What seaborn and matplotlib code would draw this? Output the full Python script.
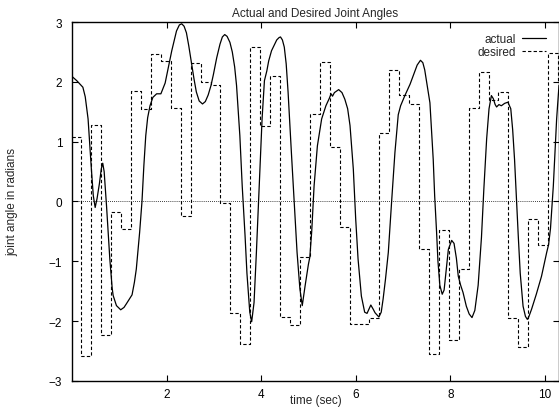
import numpy as np
import pandas as pd
import matplotlib
matplotlib.use('Agg')
import matplotlib.pyplot as plt
import seaborn as sns

# desired joint angle: value holds from each switch time until the next one
desired_t = [0.00, 0.19, 0.41, 0.62, 0.83, 1.04, 1.25, 1.46, 1.67, 1.88,
             2.09, 2.30, 2.51, 2.72, 2.93, 3.14, 3.35, 3.56, 3.77, 3.98,
             4.19, 4.40, 4.61, 4.82, 5.03, 5.24, 5.45, 5.66, 5.87, 6.08,
             6.29, 6.50, 6.71, 6.92, 7.13, 7.34, 7.55, 7.76, 7.97, 8.18,
             8.39, 8.60, 8.81, 9.02, 9.23, 9.44, 9.65, 9.86, 10.07, 10.28, 10.30]
desired_v = [1.08, -2.59, 1.28, -2.23, -0.18, -0.46, 1.84, 1.54, 2.47, 2.34,
             1.56, -0.25, 2.32, 1.99, 1.95, -0.02, -1.87, -2.38, 2.58, 1.27,
             2.10, -1.93, -2.06, -0.93, 1.46, 2.33, 0.91, -0.43, -2.04, -2.04,
             -1.95, 1.14, 2.19, 1.78, 1.63, -0.79, -2.55, -0.48, -2.32, -1.12,
             1.56, 2.16, 1.69, 1.83, -1.94, -2.44, -0.30, -0.72, 2.49, 2.00, 2.00]

# actual joint angle
actual_t = [0.00, 0.10, 0.23, 0.28, 0.34, 0.41, 0.45, 0.49, 0.53, 0.58,
            0.62, 0.65, 0.68, 0.73, 0.80, 0.85, 0.87, 0.94, 1.03, 1.10,
            1.15, 1.27, 1.32, 1.36, 1.43, 1.48, 1.52, 1.56, 1.60, 1.65,
            1.71, 1.79, 1.88, 1.92, 1.97, 2.04, 2.11, 2.21, 2.27, 2.32,
            2.37, 2.42, 2.47, 2.53, 2.58, 2.63, 2.69, 2.76, 2.82, 2.88,
            2.94, 2.99, 3.06, 3.13, 3.18, 3.23, 3.28, 3.34, 3.39, 3.44,
            3.48, 3.55, 3.60, 3.66, 3.70, 3.76, 3.80, 3.85, 3.90, 3.96,
            4.02, 4.07, 4.12, 4.16, 4.22, 4.28, 4.33, 4.38, 4.41, 4.45,
            4.49, 4.53, 4.57, 4.64, 4.70, 4.76, 4.82, 4.87, 4.93, 5.00,
            5.03, 5.07, 5.12, 5.19, 5.28, 5.37, 5.44, 5.48, 5.51, 5.55,
            5.64, 5.71, 5.77, 5.83, 5.88, 5.95, 6.00, 6.05, 6.12, 6.19,
            6.24, 6.28, 6.32, 6.37, 6.41, 6.49, 6.54, 6.58, 6.63, 6.69,
            6.76, 6.83, 6.90, 6.95, 7.04, 7.15, 7.24, 7.30, 7.37, 7.42,
            7.46, 7.51, 7.57, 7.61, 7.64, 7.67, 7.71, 7.74, 7.78, 7.83,
            7.87, 7.92, 7.96, 8.03, 8.08, 8.13, 8.17, 8.22, 8.27, 8.34,
            8.40, 8.46, 8.52, 8.59, 8.66, 8.71, 8.77, 8.82, 8.87, 8.91,
            8.95, 8.98, 9.03, 9.08, 9.15, 9.22, 9.28, 9.32, 9.36, 9.40,
            9.44, 9.48, 9.54, 9.59, 9.63, 9.66, 9.72, 9.82, 9.93, 10.04,
            10.08, 10.12, 10.18, 10.25, 10.30]
actual_v = [2.09, 2.02, 1.91, 1.75, 1.38, 0.54, 0.10, -0.10, 0.05, 0.30,
            0.55, 0.64, 0.50, -0.07, -0.96, -1.45, -1.57, -1.74, -1.81, -1.77,
            -1.71, -1.56, -1.35, -1.13, -0.52, 0.00, 0.60, 1.10, 1.40, 1.60,
            1.74, 1.80, 1.80, 1.88, 1.98, 2.25, 2.52, 2.85, 2.95, 2.97,
            2.93, 2.82, 2.60, 2.30, 2.05, 1.83, 1.68, 1.63, 1.67, 1.78,
            1.94, 2.12, 2.40, 2.63, 2.75, 2.79, 2.76, 2.66, 2.50, 2.25,
            1.94, 1.10, 0.26, -0.57, -1.20, -1.85, -2.01, -1.69, -0.85, 0.26,
            1.38, 2.02, 2.18, 2.35, 2.52, 2.62, 2.70, 2.74, 2.75, 2.70,
            2.58, 2.30, 1.83, 0.82, 0.00, -0.85, -1.46, -1.74, -1.41, -1.05,
            -0.93, -0.50, 0.26, 0.93, 1.38, 1.60, 1.72, 1.80, 1.76, 1.82,
            1.87, 1.82, 1.71, 1.55, 1.27, 0.54, -0.29, -0.96, -1.58, -1.85,
            -1.87, -1.80, -1.73, -1.80, -1.86, -1.93, -1.85, -1.63, -1.30, -0.85,
            0.00, 0.82, 1.45, 1.60, 1.77, 1.96, 2.15, 2.28, 2.36, 2.32,
            2.20, 1.95, 1.65, 1.10, 0.70, 0.10, -0.50, -1.00, -1.40, -1.55,
            -1.48, -1.10, -0.80, -0.65, -0.70, -0.95, -1.25, -1.40, -1.52, -1.75,
            -1.88, -1.94, -1.82, -1.40, -0.60, 0.20, 1.05, 1.55, 1.77, 1.72,
            1.62, 1.58, 1.62, 1.60, 1.64, 1.66, 1.55, 1.20, 0.70, 0.05,
            -0.60, -1.20, -1.75, -1.92, -1.97, -1.93, -1.80, -1.55, -1.25, -0.85,
            -0.72, -0.45, 0.26, 1.38, 1.94]

x_ticks = [2, 4, 6, 8, 10]
y_ticks = [-3, -2, -1, 0, 1, 2, 3]

sns.set_style("ticks")
plt.rcParams['font.family'] = ['Liberation Sans', 'DejaVu Sans']
fs = 8.5

fig = plt.figure(figsize=(5.59, 4.10), dpi=100)
ax = fig.add_axes([0.1288, 0.0683, 1.0 - 0.1288, 0.8756])

actual = pd.DataFrame({'t': actual_t, 'angle': actual_v})
desired = pd.DataFrame({'t': desired_t, 'angle': desired_v})

ax.axhline(0, color='black', lw=0.6, ls=(0, (1, 1.5)), zorder=1)
sns.lineplot(data=actual, x='t', y='angle', ax=ax, color='black', lw=0.9,
             label='actual', estimator=None, sort=False)
sns.lineplot(data=desired, x='t', y='angle', ax=ax, color='black', lw=0.8,
             label='desired', estimator=None, sort=False,
             drawstyle='steps-post', dashes=False, linestyle=(0, (3, 2)))

ax.set_xlim(0, 10.3)
ax.set_ylim(-3, 3)
ax.set_xticks(x_ticks)
ax.set_yticks(y_ticks)
ax.tick_params(direction='in', length=4, width=0.8, top=True, right=True,
               labelsize=fs, colors='black')
ax.tick_params(axis='y', pad=7)
ax.tick_params(axis='x', pad=5)
for s in ax.spines.values():
    s.set_linewidth(1.0)
    s.set_color('black')

ax.set_title('Actual and Desired Joint Angles', fontsize=fs, pad=4)
ax.set_xlabel('time (sec)', fontsize=fs)
ax.set_ylabel('joint angle in radians', fontsize=fs)
ax.xaxis.set_label_coords(0.5, -0.037)
ax.yaxis.set_label_coords(-0.111, 0.5)

ax.legend(loc='upper right', frameon=False, markerfirst=False, fontsize=fs,
          handlelength=2.0, handletextpad=0.5, labelspacing=0.05,
          borderaxespad=0.0, bbox_to_anchor=(0.982, 0.982))

fig.savefig('out.png', dpi=100)
